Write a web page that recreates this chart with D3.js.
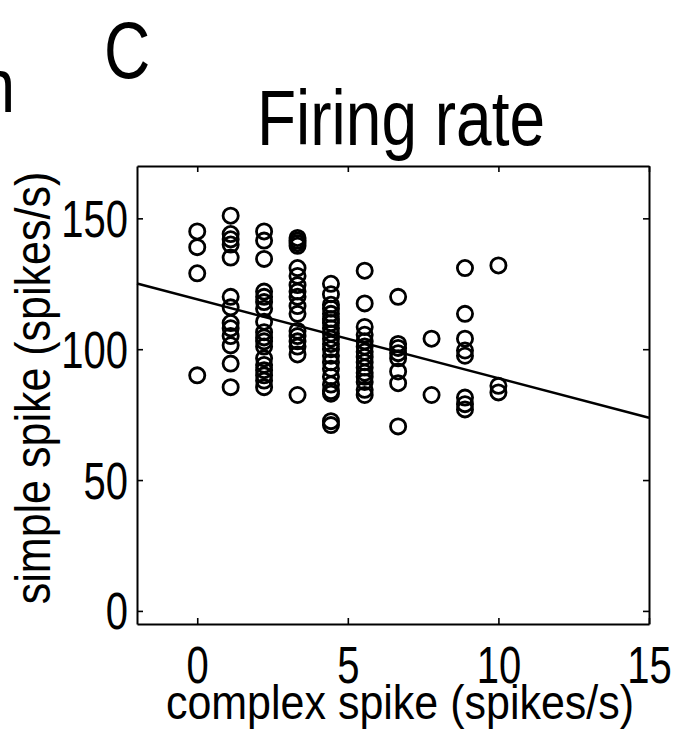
<!DOCTYPE html>
<html>
<head>
<meta charset="utf-8">
<script src="https://cdn.jsdelivr.net/npm/d3@7/dist/d3.min.js"></script>
<style>
  body { margin: 0; background: #fff; }
  text { font-family: "Liberation Sans", Arial, Helvetica, sans-serif; fill: #000; }
</style>
</head>
<body>
<div id="chart"></div>
<script>
// complex spike rate of each column of points (spikes/s)
const complexLevels = [0, 1.11, 2.22, 3.33, 4.44, 5.56, 6.67, 7.78, 8.89, 10]

// simple spike rates (spikes/s), one list per column above
const simpleCol0 = [145, 139, 129, 90]
const simpleCol1 = [151, 144, 142, 140, 135, 120, 116, 110, 108, 105, 101.5, 94.5, 85.5]
const simpleCol2 = [145, 141.5, 134.5, 122, 120, 118, 115.5, 110.5, 106.5, 104.5, 103, 101, 96.5, 94, 92, 90, 88, 85.5]
const simpleCol3 = [142.5, 141.5, 140.5, 139.5, 131, 128, 124.5, 122, 120, 116.5, 113.5, 107, 105, 103, 101, 98, 82.5]
const simpleCol4 = [125, 121, 117, 115.5, 113.5, 111.5, 110, 108, 106, 104, 102, 100, 97.5, 95, 92.5, 89.5, 86.5, 84, 83, 72.5, 71]
const simpleCol5 = [130, 117.5, 108.5, 105.5, 103, 101, 99, 97, 95, 93, 91, 89.5, 87.5, 84.5, 82.5]
const simpleCol6 = [120, 102, 100.5, 98.5, 96.5, 91.5, 87, 70.5]
const simpleCol7 = [104, 82.5]
const simpleCol8 = [131, 113.5, 104, 99.5, 97.5, 81.5, 79, 77]
const simpleCol9 = [132, 86, 83.5]

// regression line, read at both ends of the x range
const fitX = [-2, 15]
const fitY = [125.1, 73.8]

const xTicks = [0, 5, 10, 15]
const yTicks = [0, 50, 100, 150]

const simpleCols = [simpleCol0, simpleCol1, simpleCol2, simpleCol3, simpleCol4,
  simpleCol5, simpleCol6, simpleCol7, simpleCol8, simpleCol9]

const points = []
simpleCols.forEach((col, i) => {
  col.forEach(v => points.push({ cs: complexLevels[i], ss: v }))
})

const margin = { top: 166, left: 137, right: 27, bottom: 105 }
const width = 676 - margin.left - margin.right
const height = 729 - margin.top - margin.bottom

const root = d3
  .select('#chart')
  .append('svg')
  .attr('width', 676)
  .attr('height', 729)

const svg = root
  .append('g')
  .attr('transform', 'translate(' + margin.left + ',' + margin.top + ')')

// scales
const xScale = d3.scaleLinear().domain([-2, 15]).range([0, width])
const yScale = d3.scaleLinear().domain([-5, 170]).range([height, 0])

// axes, ticks pointing inwards like matlab
const bottomAxis = svg.append('g')
  .attr('transform', `translate(0,${height})`)
  .call(d3.axisBottom(xScale).tickValues(xTicks).tickSize(-6).tickSizeOuter(0))

const leftAxis = svg.append('g')
  .call(d3.axisLeft(yScale).tickValues(yTicks).tickSize(-6).tickSizeOuter(0))

svg.append('g')
  .call(d3.axisTop(xScale).tickValues(xTicks).tickSize(-6).tickSizeOuter(0).tickFormat(''))

svg.append('g')
  .attr('transform', `translate(${width},0)`)
  .call(d3.axisRight(yScale).tickValues(yTicks).tickSize(-6).tickSizeOuter(0).tickFormat(''))

svg.selectAll('.domain').attr('stroke', '#000').attr('stroke-width', 2)
svg.selectAll('.tick line').attr('stroke', '#000').attr('stroke-width', 1.6)

// the scanned lettering is tall and narrow, so texts get stretched vertically
bottomAxis.selectAll('.tick text')
  .attr('y', null)
  .attr('dy', null)
  .attr('transform', 'translate(0,59) scale(1,1.3)')
  .style('font-size', '40px')

leftAxis.selectAll('.tick text')
  .attr('x', null)
  .attr('dy', null)
  .attr('text-anchor', 'end')
  .attr('transform', 'translate(-9,18) scale(1,1.3)')
  .style('font-size', '40px')

// regression line
const line = d3.line()
  .x(d => xScale(d[0]))
  .y(d => yScale(d[1]))

svg.append('path')
  .datum(d3.zip(fitX, fitY))
  .attr('d', line)
  .attr('fill', 'none')
  .attr('stroke', '#000')
  .attr('stroke-width', 2.5)

// points
svg.selectAll('circle')
  .data(points)
  .enter()
  .append('circle')
  .attr('cx', d => xScale(d.cs))
  .attr('cy', d => yScale(d.ss))
  .attr('r', 7.6)
  .attr('fill', 'none')
  .attr('stroke', '#000')
  .attr('stroke-width', 2.8)

// labels
root.append('text')
  .attr('transform', 'translate(400,719) scale(1,1.12)')
  .attr('text-anchor', 'middle')
  .style('font-size', '43px')
  .text('complex spike (spikes/s)')

root.append('text')
  .attr('transform', 'translate(50,388) rotate(-90) scale(1,1.15)')
  .attr('text-anchor', 'middle')
  .style('font-size', '43px')
  .text('simple spike (spikes/s)')

root.append('text')
  .attr('transform', 'translate(401,145) scale(1,1.22)')
  .attr('text-anchor', 'middle')
  .style('font-size', '64px')
  .text('Firing rate')

root.append('text')
  .attr('transform', 'translate(104,78) scale(1,1.25)')
  .style('font-size', '64px')
  .text('C')

// tail of the neighbouring panel's title, cut by the page edge
root.append('text')
  .attr('transform', 'translate(15,112) scale(1,1.2)')
  .attr('text-anchor', 'end')
  .style('font-size', '64px')
  .text('n')
</script>
</body>
</html>
